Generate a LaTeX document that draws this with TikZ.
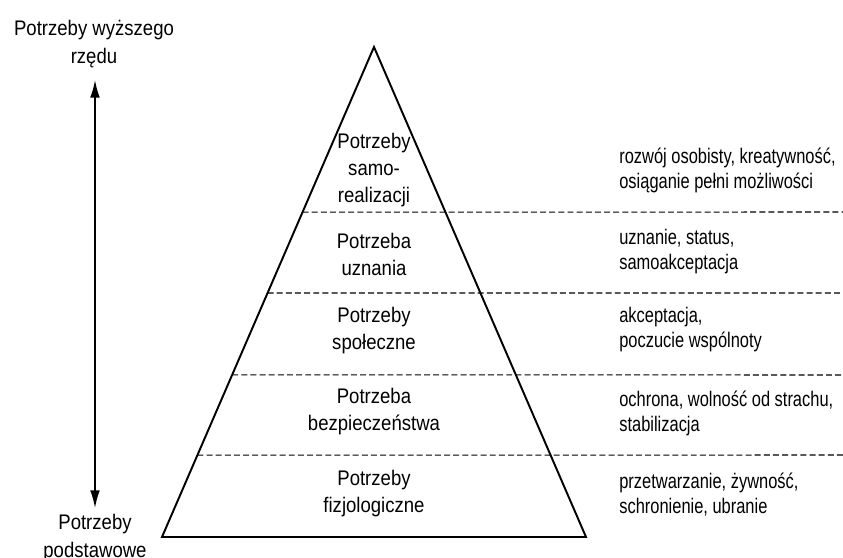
\documentclass[tikz,border=0pt]{standalone}
\usepackage{fontspec}
\setmainfont{Liberation Sans}[FakeStretch=0.88]
\newfontfamily\descfont{Liberation Sans}[FakeStretch=0.78]
\usetikzlibrary{arrows.meta,calc}

\tikzset{
  level/.style={align=center, inner sep=0pt, font=\fontsize{12}{15.4}\selectfont},
  desc/.style={align=left, anchor=west, inner sep=0pt, font=\descfont\fontsize{12}{14.2}\selectfont},
  side/.style={align=center, inner sep=0pt, font=\fontsize{12}{16}\selectfont},
  sep/.style={dash pattern=on 3.4pt off 1.8pt, line width=0.6pt}
}

\begin{document}
\begin{tikzpicture}[x=0.02cm, y=-0.02cm]
        \useasboundingbox (0,0) rectangle (843,558);
        \coordinate (apex) at (374,47);
        \coordinate (bl) at (162,537);
        \coordinate (br) at (586,537);
        \draw[line width=1.1pt, line join=miter] (apex) -- (br) -- (bl) -- cycle;
        \foreach \t/\y in {0.337/212, 0.502/293, 0.669/375, 0.833/455}
            \draw[sep] ($(apex)!\t!(bl)$) -- (843,\y);

        \node[level] at (374,170) (self){Potrzeby\\samo-\\realizacji};
        \node[level] at (374,254) (esteem){Potrzeba\\uznania};
        \node[level] at (374,331) (social){Potrzeby\\społeczne};
        \node[level] at (374,412) (safety){Potrzeba\\bezpieczeństwa};
        \node[level] at (374,494) (phys){Potrzeby\\fizjologiczne};

        \node[desc] at (619,170) (selfd){rozwój osobisty, kreatywność,\\osiąganie pełni możliwości};
        \node[desc] at (619,252) (esteemd){uznanie, status,\\samoakceptacja};
        \node[desc] at (619,330) (sociald){akceptacja,\\poczucie wspólnoty};
        \node[desc] at (619,413) (safetyd){ochrona, wolność od strachu,\\stabilizacja};
        \node[desc] at (619,495) (physd){przetwarzanie, żywność,\\schronienie, ubranie};

        \node[side] at (94,44) (high){Potrzeby wyższego\\rzędu};
        \node[side] at (95,538) (low){Potrzeby\\podstawowe};
        \coordinate (up) at (95,80);
        \coordinate (down) at (95,508);
        \draw[{Latex[length=10pt,width=5.5pt]}-{Latex[length=10pt,width=5.5pt]}, line width=0.9pt] (up) -- (down);
    \end{tikzpicture}
\end{document}
